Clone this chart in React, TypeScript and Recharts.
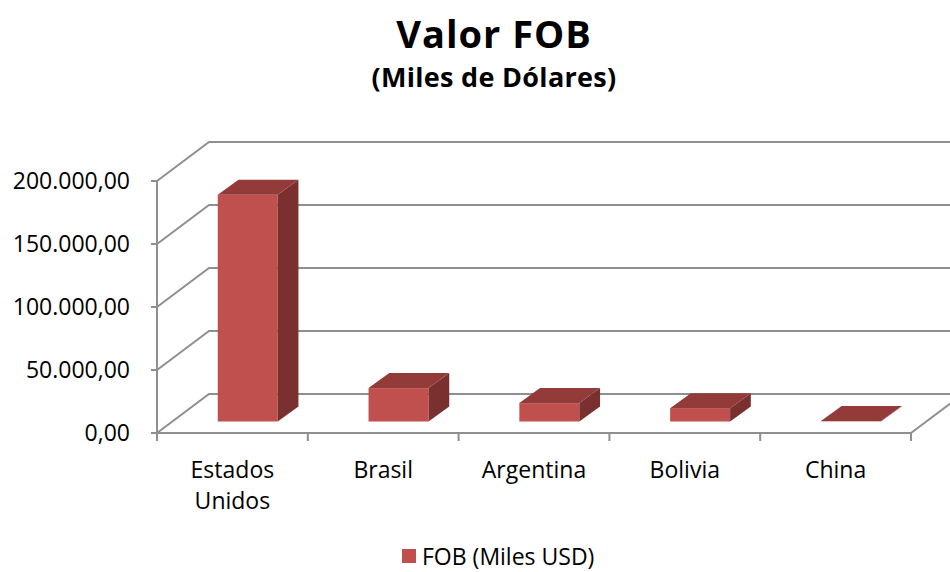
import { BarChart, Bar, XAxis, YAxis, CartesianGrid, Legend } from 'recharts'

const categories = ['Estados Unidos', 'Brasil', 'Argentina', 'Bolivia', 'China']
const fobValues = [180000, 26500, 14600, 10600, 300]
const yTicks = [0, 50000, 100000, 150000, 200000]

const data = categories.map((name, i) => ({ name, fob: fobValues[i] }))

const FONT = '"Open Sans", sans-serif'
const GRID = '#8f8f8f'
const W = 950
const H = 572
const MARGIN = { top: 181, right: 39, left: 0, bottom: 0 }
const Y_AXIS_W = 157
const BAND = (W - Y_AXIS_W - MARGIN.right) / categories.length

// oblique offsets of the 3D box: back wall, bar position, bar depth
const WALL = { dx: 52, dy: -39 }
const BAR_POS = { dx: 15.5, dy: -11.5 }
const BAR_DEPTH = { dx: 20.7, dy: -15 }

const fmt = (v: number) =>
    String(v).replace(/\B(?=(\d{3})+(?!\d))/g, '.') + ',00'

const GridLine = (props: any) => {
    const { x1, y1, x2, y2, index } = props
    let d = `M${x1},${y1} L${x1 + WALL.dx},${y1 + WALL.dy} L${x2 + WALL.dx},${y2 + WALL.dy}`
    if (index === 0) d += ` M${x2},${y2} L${x2 + WALL.dx},${y2 + WALL.dy}`
    return <path key={`g-${index}`} d={d} stroke={GRID} strokeWidth={2} fill="none" />
}

const Box3D = (props: any) => {
    const { x, y, width, height } = props
    const fx = x + BAR_POS.dx
    const fy = y + BAR_POS.dy
    const { dx, dy } = BAR_DEPTH
    const top = `${fx},${fy} ${fx + dx},${fy + dy} ${fx + width + dx},${fy + dy} ${fx + width},${fy}`
    const side = `${fx + width},${fy} ${fx + width + dx},${fy + dy} ${fx + width + dx},${fy + height + dy} ${fx + width},${fy + height}`
    return (
        <g>
            <rect x={fx} y={fy} width={width} height={Math.max(height, 0)} fill="#C0504D" />
            <polygon points={side} fill="#7A302E" />
            <polygon points={top} fill="#923B39" />
        </g>
    )
}

const XTick = (props: any) => {
    const { x, y, payload, index } = props
    const lines = String(payload.value).split(' ')
    return (
        <g>
            <line x1={x - BAND / 2} y1={y} x2={x - BAND / 2} y2={y + 8} stroke={GRID} strokeWidth={2} />
            {index === categories.length - 1 && (
                <line x1={x + BAND / 2} y1={y} x2={x + BAND / 2} y2={y + 8} stroke={GRID} strokeWidth={2} />
            )}
            {lines.map((l, i) => (
                <text key={i} x={x} y={y + 45 + i * 31} textAnchor="middle" fontSize={23} fontFamily={FONT} fill="#000">
                    {l}
                </text>
            ))}
        </g>
    )
}

const YTick = (props: any) => {
    const { x, y, payload } = props
    return (
        <text x={x - 19} y={y + 8} textAnchor="end" fontSize={23} fontFamily={FONT} fill="#000">
            {fmt(payload.value)}
        </text>
    )
}

const LegendContent = () => (
    <div style={{ display: 'flex', alignItems: 'center', boxSizing: 'border-box', height: 30, paddingTop: 2, paddingBottom: 4, paddingLeft: 402, fontFamily: FONT, fontSize: 23, lineHeight: '22px' }}>
        <span style={{ width: 14, height: 14, background: '#C0504D', marginRight: 6 }} />
        <span>FOB (Miles USD)</span>
    </div>
)

export default function App() {
    return (
        <div style={{ position: 'absolute', left: 0, top: 0, width: W, height: H, background: '#fff' }}>
            <BarChart width={W} height={H} data={data} margin={MARGIN} barCategoryGap="30%">
                <CartesianGrid horizontal={GridLine} vertical={false} />
                <XAxis
                    dataKey="name"
                    height={109}
                    axisLine={{ stroke: GRID, strokeWidth: 2 }}
                    tickLine={false}
                    tickSize={0}
                    tickMargin={0}
                    tick={<XTick />}
                    interval={0}
                />
                <YAxis
                    width={Y_AXIS_W}
                    domain={[0, 200000]}
                    ticks={yTicks}
                    axisLine={{ stroke: GRID, strokeWidth: 2 }}
                    tickLine={{ stroke: GRID, strokeWidth: 2 }}
                    tickSize={6}
                    tick={<YTick />}
                />
                <Bar dataKey="fob" name="FOB (Miles USD)" shape={<Box3D />} isAnimationActive={false} />
                <Legend verticalAlign="bottom" height={30} content={<LegendContent />} />
            </BarChart>
            <svg width={W} height={110} style={{ position: 'absolute', left: 0, top: 0, pointerEvents: 'none' }}>
                <text x={494} y={48} textAnchor="middle" fontFamily={FONT} fontWeight={700} fontSize={38} letterSpacing={1}>
                    Valor FOB
                </text>
                <text x={494} y={87} textAnchor="middle" fontFamily={FONT} fontWeight={700} fontSize={27} letterSpacing={0.3}>
                    (Miles de Dólares)
                </text>
            </svg>
        </div>
    )
}
